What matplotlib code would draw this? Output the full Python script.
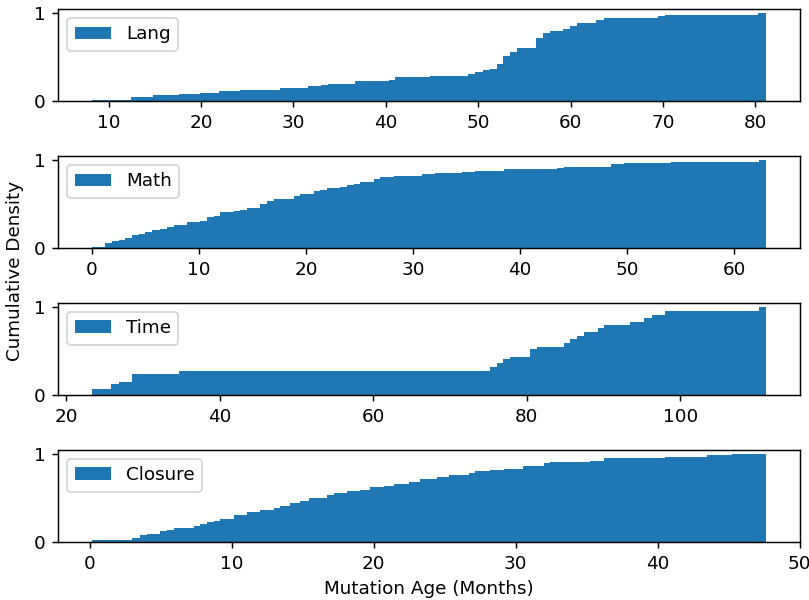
import numpy as np
import matplotlib
matplotlib.use("Agg")
import matplotlib.pyplot as plt

# ── Cumulative density steps (bin edges, heights) ──
lang_edges = [8.2, 12.45, 14.8, 17.6, 19.9, 22.0, 24.2, 28.6, 31.6, 33.0,
              33.8, 36.7, 40.3, 41.0, 44.8, 48.9, 49.65, 50.55, 51.3, 52.0,
              52.7, 53.4, 54.2, 56.3, 57.05, 57.8, 59.2, 59.9, 60.7, 62.8,
              63.6, 69.5, 70.2, 80.3, 81.2]
lang_vals = [0.01, 0.05, 0.068, 0.083, 0.098, 0.113, 0.128, 0.155, 0.17, 0.189,
             0.2, 0.226, 0.245, 0.275, 0.29, 0.306, 0.328, 0.359, 0.37, 0.427,
             0.51, 0.558, 0.604, 0.725, 0.781, 0.796, 0.823, 0.853, 0.895, 0.929,
             0.947, 0.966, 0.977, 1.0]

math_edges = [0.0, 1.25, 1.87, 2.49, 3.12, 3.74, 4.36, 4.98, 5.61, 6.39,
              7.01, 7.63, 8.88, 10.12, 10.75, 11.37, 11.99, 12.62, 13.24, 13.86,
              14.49, 15.73, 16.36, 16.98, 18.85, 19.47, 20.72, 21.34, 21.96, 23.21,
              23.83, 24.46, 25.08, 26.32, 26.95, 28.19, 30.84, 32.08, 34.58, 35.82,
              38.47, 43.46, 44.08, 48.44, 49.69, 54.05, 62.3, 63.0]
math_vals = [0.012, 0.057, 0.080, 0.095, 0.118, 0.145, 0.164, 0.186, 0.201, 0.221,
             0.240, 0.263, 0.297, 0.308, 0.354, 0.369, 0.407, 0.414, 0.426, 0.437,
             0.460, 0.502, 0.536, 0.563, 0.590, 0.612, 0.650, 0.666, 0.681, 0.696,
             0.719, 0.734, 0.757, 0.788, 0.807, 0.818, 0.841, 0.856, 0.867, 0.882,
             0.897, 0.909, 0.928, 0.954, 0.973, 0.985, 1.0]

time_edges = [23.34, 25.87, 26.82, 28.56, 34.69, 75.21, 76.08, 76.95, 77.82, 80.43,
              81.38, 84.77, 85.64, 86.52, 87.39, 89.26, 90.08, 93.47, 95.21, 96.30,
              98.04, 110.2, 111.2]
time_vals = [0.068, 0.12, 0.151, 0.238, 0.267, 0.313, 0.358, 0.408, 0.437, 0.528,
             0.551, 0.596, 0.641, 0.672, 0.717, 0.762, 0.792, 0.834, 0.879, 0.909,
             0.955, 1.0]

closure_edges = [0.17, 2.04, 2.99, 3.57, 4.04, 4.98, 5.45, 5.92, 7.32, 7.8,
                 8.27, 8.73, 9.2, 10.14, 11.08, 12.02, 12.96, 13.43, 14.13, 14.84,
                 15.42, 16.72, 17.18, 18.12, 19.06, 19.77, 20.7, 21.41, 22.46, 23.29,
                 24.46, 25.28, 26.69, 27.16, 28.22, 29.15, 30.52, 31.97, 32.44, 35.26,
                 36.2, 40.54, 43.48, 45.24, 47.65]
closure_vals = [0.015, 0.026, 0.041, 0.072, 0.091, 0.121, 0.136, 0.159, 0.185, 0.205,
                0.223, 0.242, 0.265, 0.31, 0.336, 0.364, 0.386, 0.409, 0.447, 0.47,
                0.5, 0.534, 0.557, 0.583, 0.594, 0.62, 0.64, 0.659, 0.685, 0.712,
                0.734, 0.761, 0.788, 0.803, 0.818, 0.833, 0.864, 0.894, 0.909, 0.924,
                0.955, 0.969, 0.984, 1.0]

labels = ["Lang", "Math", "Time", "Closure"]
series = [(lang_edges, lang_vals), (math_edges, math_vals),
          (time_edges, time_vals), (closure_edges, closure_vals)]

# ── Plot ─────────────────────────────────────────────────────
DPI = 132
fig, axes = plt.subplots(4, 1, figsize=(809 / DPI, 600 / DPI), dpi=DPI)
fig.subplots_adjust(left=0.072, right=0.989, top=0.985, bottom=0.097, hspace=0.595)

for ax, label, (edges, vals) in zip(axes, labels, series):
    edges = np.array(edges)
    ax.bar(edges[:-1], vals, width=np.diff(edges), align="edge",
           color="#1f77b4", linewidth=0, label=label)
    ax.set_yticks([0, 1])
    ax.legend(loc="upper left")

axes[-1].set_xlabel("Mutation Age (Months)")
fig.text(15 / 809, 0.548, "Cumulative Density", rotation=90,
         ha="center", va="center", fontsize=10)

plt.savefig("out.png", dpi=DPI)
